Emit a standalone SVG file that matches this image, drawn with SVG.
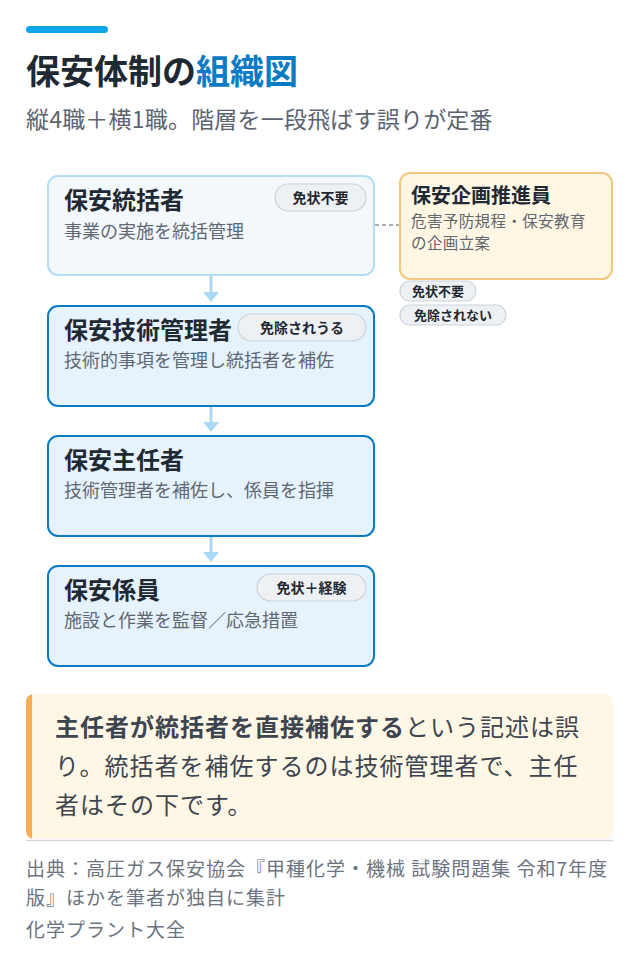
<svg xmlns="http://www.w3.org/2000/svg" width="640" height="980" viewBox="0 0 640 980">
<defs>
<style>
text{font-family:"Noto Sans CJK JP","Noto Sans",sans-serif;}
.ttl{font-size:34px;font-weight:700;fill:#1f2933;}
.sub{font-size:23px;fill:#5b6470;letter-spacing:0.2px;}
.nt{font-size:24px;font-weight:700;fill:#1f2933;}
.nd{font-size:18px;fill:#5f6772;}
.n1{fill:#f3f8fc;stroke:#b6ddf6;stroke-width:2;}
.n2{fill:#e6f3fd;stroke:#0b7cc4;stroke-width:2;}
.np{fill:#fff6e3;stroke:#f3c77f;stroke-width:2;}
.bd{fill:#eef1f4;stroke:#ccd3da;stroke-width:1.2;}
.bt{font-size:14px;font-weight:700;fill:#222831;text-anchor:middle;}
.bs{font-size:13px;font-weight:700;fill:#222831;text-anchor:middle;}
.pt{font-size:20px;font-weight:700;fill:#1f2933;}
.pd{font-size:15.5px;fill:#5f6772;}
.arr{stroke:#a8d9f7;stroke-width:3;fill:none;marker-end:url(#ah);}
.dash{stroke:#8b949e;stroke-width:1.5;stroke-dasharray:4 3;fill:none;}
.ct{font-size:24px;fill:#3d4550;letter-spacing:1px;}
.src{font-size:19px;fill:#6b7480;letter-spacing:1px;}
</style>
<marker id="ah" viewBox="0 0 10 16" refX="0" refY="8" markerWidth="10" markerHeight="16" markerUnits="userSpaceOnUse" orient="auto">
<path d="M0,0 L10,8 L0,16 z" fill="#a8d9f7"/>
</marker>
<clipPath id="cc"><rect x="26" y="694" width="587" height="145" rx="8"/></clipPath>
</defs>
<rect width="640" height="980" fill="#ffffff"/>

<g id="header">
<rect x="26" y="26" width="82" height="7" rx="3.5" fill="#0ea5e9"/>
<text class="ttl" x="26" y="84">保安体制の<tspan fill="#0b7bc4">組織図</tspan></text>
<text class="sub" x="26" y="128">縦4職＋横1職。階層を一段飛ばす誤りが定番</text>
</g>

<g id="connectors">
<line class="arr" x1="211" y1="276" x2="211" y2="292"/>
<line class="arr" x1="211" y1="407" x2="211" y2="422"/>
<line class="arr" x1="211" y1="537" x2="211" y2="552"/>
<line class="dash" x1="375" y1="225" x2="399" y2="225"/>
</g>

<g id="node-tokatsu">
<rect class="n1" x="48" y="176" width="326" height="99" rx="10"/>
<text class="nt" x="64" y="209">保安統括者</text>
<text class="nd" x="64" y="238">事業の実施を統括管理</text>
<rect class="bd" x="275" y="184" width="91" height="27" rx="13.5"/>
<text class="bt" x="320.5" y="203">免状不要</text>
</g>

<g id="node-gijutsu">
<rect class="n2" x="48" y="306" width="326" height="100" rx="10"/>
<text class="nt" x="64" y="339">保安技術管理者</text>
<text class="nd" x="64" y="367">技術的事項を管理し統括者を補佐</text>
<rect class="bd" x="238" y="314" width="128" height="27" rx="13.5"/>
<text class="bt" x="302" y="333">免除されうる</text>
</g>

<g id="node-shunin">
<rect class="n2" x="48" y="436" width="326" height="100" rx="10"/>
<text class="nt" x="64" y="469">保安主任者</text>
<text class="nd" x="64" y="497">技術管理者を補佐し、係員を指揮</text>
</g>

<g id="node-kakariin">
<rect class="n2" x="48" y="566" width="326" height="100" rx="10"/>
<text class="nt" x="64" y="599">保安係員</text>
<text class="nd" x="64" y="627">施設と作業を監督／応急措置</text>
<rect class="bd" x="257" y="574" width="109" height="27" rx="13.5"/>
<text class="bt" x="311.5" y="593">免状＋経験</text>
</g>

<g id="node-kikaku">
<rect class="np" x="400" y="173" width="212" height="106" rx="10"/>
<text class="pt" x="411" y="203">保安企画推進員</text>
<text class="pd" x="411" y="227" letter-spacing="0.4">危害予防規程・保安教育</text>
<text class="pd" x="411" y="249" letter-spacing="0.4">の企画立案</text>
<rect class="bd" x="400" y="281" width="76" height="20" rx="10"/>
<text class="bs" x="438" y="296">免状不要</text>
<rect class="bd" x="400" y="305" width="106" height="20" rx="10"/>
<text class="bs" x="453" y="320">免除されない</text>
</g>

<g id="callout">
<rect x="26" y="694" width="587" height="145" rx="8" fill="#fff7e6"/>
<rect x="26" y="694" width="6" height="145" fill="#f6ad55" clip-path="url(#cc)"/>
<text class="ct" x="55" y="736"><tspan font-weight="700">主任者が統括者を直接補佐する</tspan>という記述は誤</text>
<text class="ct" x="55" y="775">り。統括者を補佐するのは技術管理者で、主任</text>
<text class="ct" x="55" y="814">者はその下です。</text>
<line x1="26" y1="840.5" x2="613" y2="840.5" stroke="#d3dae0" stroke-width="1.5"/>
</g>

<g id="source">
<text class="src" x="26" y="876">出典：高圧ガス保安協会『甲種化学・機械 試験問題集 令和7年度</text>
<text class="src" x="26" y="905">版』ほかを筆者が独自に集計</text>
<text class="src" x="26" y="937">化学プラント大全</text>
</g>
</svg>
